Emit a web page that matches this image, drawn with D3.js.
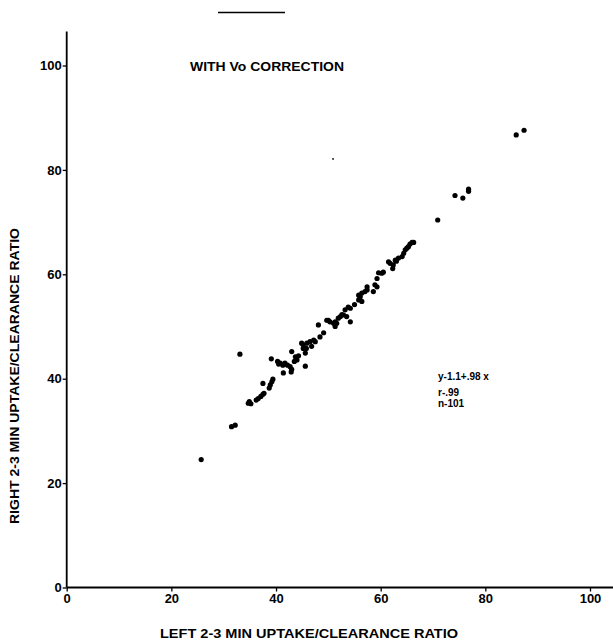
<!DOCTYPE html>
<html>
<head>
<meta charset="utf-8">
<script src="https://cdn.jsdelivr.net/npm/d3@7/dist/d3.min.js"></script>
<style>
  html, body { margin: 0; padding: 0; background: #fff; }
  svg { display: block; }
  text { font-family: "Liberation Sans", Arial, Helvetica, sans-serif; fill: #000; }
</style>
</head>
<body>
<div id="chart"></div>
<script>
// Left vs right 2-3 min uptake/clearance ratio
const leftRatio = [
  25.7, 31.5, 32.2, 33.1, 34.7, 35.2, 34.9, 36.6, 37.1, 37.5,
  37.7, 37.5, 38.7, 38.9, 39.2, 39.4, 39.1, 40.3, 40.8, 41.3,
  41.7, 42.2, 41.4, 42.7, 43.0, 42.9, 43.0, 43.7, 44.0, 43.5,
  44.9, 45.2, 45.8, 45.6, 45.6, 45.2, 45.9, 46.5, 47.2, 47.5,
  48.1, 49.1, 50.0, 50.3, 51.0, 51.3, 51.3, 51.9, 52.3, 52.9,
  53.5, 54.2, 53.2, 53.8, 54.2, 55.8, 56.1, 56.4, 57.0, 57.4,
  56.4, 55.8, 57.4, 58.6, 58.9, 59.3, 59.6, 60.2, 59.3, 61.5,
  61.8, 62.4, 62.3, 62.8, 63.4, 64.1, 64.4, 64.7, 65.0, 65.3,
  65.6, 66.0, 66.3, 70.9, 74.2, 75.7, 76.8, 76.8, 85.9, 87.4,
  49.7, 51.6, 36.2, 40.5, 44.3, 46.8, 48.4, 52.6, 55.0, 60.5,
  63.0
]
const rightRatio = [
  24.5, 30.8, 31.1, 44.7, 35.3, 35.2, 35.6, 36.2, 36.6, 37.0,
  37.2, 39.1, 38.2, 38.8, 39.4, 39.9, 43.8, 43.3, 43.0, 42.6,
  43.0, 42.6, 41.1, 42.3, 41.8, 41.3, 45.2, 44.2, 43.6, 43.3,
  46.8, 46.5, 45.8, 44.9, 42.4, 45.8, 46.8, 47.1, 47.4, 47.1,
  50.3, 48.8, 51.2, 50.9, 50.6, 50.0, 50.9, 51.6, 51.9, 52.2,
  51.9, 50.9, 53.2, 53.7, 53.5, 55.1, 55.7, 56.4, 56.7, 57.0,
  54.8, 56.0, 57.6, 56.7, 58.0, 59.2, 60.3, 60.2, 57.6, 62.4,
  62.1, 61.8, 61.1, 62.7, 63.1, 63.4, 64.0, 64.7, 65.0, 65.3,
  65.8, 66.1, 66.1, 70.4, 75.1, 74.6, 76.3, 75.9, 86.7, 87.6,
  51.2, 50.6, 35.9, 42.8, 44.4, 46.2, 48.0, 52.3, 54.2, 60.4,
  62.5
]
// stray speck printed on the original
const speck = [[50.9, 82.1]]

const tickValues = [0, 20, 40, 60, 80, 100]
const titleText = "WITH Vo CORRECTION"
const xLabel = "LEFT 2-3 MIN UPTAKE/CLEARANCE RATIO"
const yLabel = "RIGHT 2-3 MIN UPTAKE/CLEARANCE RATIO"
const statLines = ["y-1.1+.98 x", "r-.99", "n-101"]

const W = 613, H = 643

const svg = d3.select("#chart").append("svg")
  .attr("width", W)
  .attr("height", H)

const x = d3.scaleLinear().domain([0, 100]).range([66.7, 590])
const y = d3.scaleLinear().domain([0, 100]).range([587.5, 65.5])

// short rule above the plot
svg.append("line")
  .attr("x1", 218).attr("x2", 285)
  .attr("y1", 12.5).attr("y2", 12.5)
  .attr("stroke", "#000").attr("stroke-width", 1.4)

// Axes
const xAxis = d3.axisBottom(x).tickValues(tickValues).tickSize(4).tickPadding(2)
const yAxis = d3.axisLeft(y).tickValues(tickValues).tickSize(4).tickPadding(1)

const gx = svg.append("g")
  .attr("transform", `translate(0,${y(0)})`)
  .call(xAxis)
const gy = svg.append("g")
  .attr("transform", `translate(${x(0)},0)`)
  .call(yAxis)

for (const g of [gx, gy]) {
  g.select(".domain").remove()
  g.selectAll(".tick line").attr("stroke", "#000").attr("stroke-width", 1.3)
  g.selectAll(".tick text")
    .attr("fill", "#000")
    .style("font-size", "13px")
    .style("font-weight", "bold")
    .style("font-family", "'Liberation Sans', Arial, sans-serif")
}

// axis lines extend past the last tick
svg.append("line")
  .attr("x1", x(0)).attr("x2", W)
  .attr("y1", y(0)).attr("y2", y(0))
  .attr("stroke", "#000").attr("stroke-width", 1.8)
svg.append("line")
  .attr("x1", x(0)).attr("x2", x(0))
  .attr("y1", y(0)).attr("y2", y(106.5))
  .attr("stroke", "#000").attr("stroke-width", 1.8)

// Points
const pts = leftRatio.map((v, i) => ({ left: v, right: rightRatio[i] }))
svg.append("g")
  .selectAll("circle")
  .data(pts)
  .join("circle")
  .attr("cx", d => x(d.left))
  .attr("cy", d => y(d.right))
  .attr("r", 2.6)
  .attr("fill", "#000")

svg.append("g")
  .selectAll("circle")
  .data(speck)
  .join("circle")
  .attr("cx", d => x(d[0]))
  .attr("cy", d => y(d[1]))
  .attr("r", 0.9)
  .attr("fill", "#000")

// Title
svg.append("text")
  .attr("x", 190).attr("y", 71)
  .attr("textLength", 154)
  .attr("lengthAdjust", "spacingAndGlyphs")
  .style("font-size", "12.5px")
  .style("font-weight", "bold")
  .text(titleText)

// Regression stats
svg.append("g")
  .selectAll("text")
  .data(statLines)
  .join("text")
  .attr("x", 438)
  .attr("y", (d, i) => [380, 396, 407][i])
  .style("font-size", "10px")
  .style("font-weight", "bold")
  .text(d => d)

// Axis titles
svg.append("text")
  .attr("x", 309).attr("y", 638)
  .attr("text-anchor", "middle")
  .attr("textLength", 298)
  .attr("lengthAdjust", "spacingAndGlyphs")
  .style("font-size", "12.5px")
  .style("font-weight", "bold")
  .text(xLabel)

svg.append("text")
  .attr("transform", "translate(19,376) rotate(-90)")
  .attr("text-anchor", "middle")
  .attr("textLength", 296)
  .attr("lengthAdjust", "spacingAndGlyphs")
  .style("font-size", "12.5px")
  .style("font-weight", "bold")
  .text(yLabel)
</script>
</body>
</html>
